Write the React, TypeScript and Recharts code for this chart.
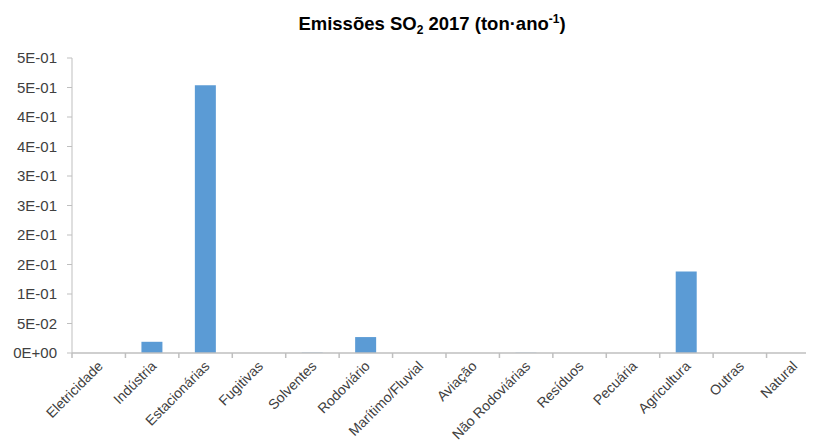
import React from "react";
import { BarChart, Bar, XAxis, YAxis } from "recharts";

const categories = [
  "Eletricidade",
  "Indústria",
  "Estacionárias",
  "Fugitivas",
  "Solventes",
  "Rodoviário",
  "Marítimo/Fluvial",
  "Aviação",
  "Não Rodoviárias",
  "Resíduos",
  "Pecuária",
  "Agricultura",
  "Outras",
  "Natural",
];
const emissions = [0, 0.019, 0.454, 0, 0.0006, 0.027, 0, 0, 0.0004, 0, 0, 0.138, 0, 0];
const yTicks = [0, 0.05, 0.1, 0.15, 0.2, 0.25, 0.3, 0.35, 0.4, 0.45, 0.5];
const yTickLabels = ["0E+00", "5E-02", "1E-01", "2E-01", "2E-01", "3E-01", "3E-01", "4E-01", "4E-01", "5E-01", "5E-01"];

const data = categories.map((name, i) => ({ name, value: emissions[i] }));

const FONT = "'Liberation Sans', Arial, sans-serif";
const TEXT = "#404040";
const AXIS = "#bfbfbf";

const CHART_W = 830;
const MARGIN_R = 18;
const Y_W = 64;
const BAND = (CHART_W - MARGIN_R - Y_W) / categories.length;

const CatTick = (props: any) => {
  const { x, y, payload, index } = props;
  const ax = x + 5;
  const ay = y + 14;
  const left = x - BAND / 2;
  const right = x + BAND / 2;
  return (
    <g>
      <line x1={left} y1={y} x2={left} y2={y + 5} stroke={AXIS} strokeWidth={1.5} />
      {index === categories.length - 1 && (
        <line x1={right} y1={y} x2={right} y2={y + 5} stroke={AXIS} strokeWidth={1.5} />
      )}
      <text
        x={ax}
        y={ay}
        textAnchor="end"
        fontSize={14}
        fontFamily={FONT}
        fill={TEXT}
        transform={`rotate(-45, ${ax}, ${ay})`}
      >
        {payload.value}
      </text>
    </g>
  );
};

export default function App() {
  return (
    <div style={{ position: "relative", width: 806, height: 435, overflow: "hidden" }}>
      <BarChart
        width={CHART_W}
        height={435}
        data={data}
        margin={{ top: 50, right: MARGIN_R, left: 0, bottom: 0 }}
      >
        <XAxis
          dataKey="name"
          interval={0}
          tick={<CatTick />}
          tickLine={false}
          tickSize={0}
          tickMargin={0}
          axisLine={{ stroke: AXIS, strokeWidth: 1.5 }}
          height={90}
        />
        <YAxis
          width={Y_W}
          domain={[0, 0.5]}
          ticks={yTicks}
          interval={0}
          tickFormatter={(v: number) => yTickLabels[yTicks.indexOf(v)] ?? ""}
          stroke={AXIS}
          tickSize={5}
          tickMargin={10}
          tick={{ fill: TEXT, fontSize: 15, fontFamily: FONT }}
        />
        <Bar dataKey="value" fill="#5b9bd5" barSize={21} isAnimationActive={false} />
      </BarChart>
      <svg
        width={CHART_W}
        height={50}
        style={{ position: "absolute", left: 0, top: 0, pointerEvents: "none" }}
      >
        <text
          x={424}
          y={22}
          textAnchor="middle"
          fontFamily={FONT}
          fontWeight="bold"
          fontSize={18.5}
          fill="#000"
        >
          Emissões SO
          <tspan fontSize={12} dy={4}>2</tspan>
          <tspan dy={-4}> 2017 (ton·ano</tspan>
          <tspan fontSize={12} dy={-7}>-1</tspan>
          <tspan dy={7}>)</tspan>
        </text>
      </svg>
    </div>
  );
}
